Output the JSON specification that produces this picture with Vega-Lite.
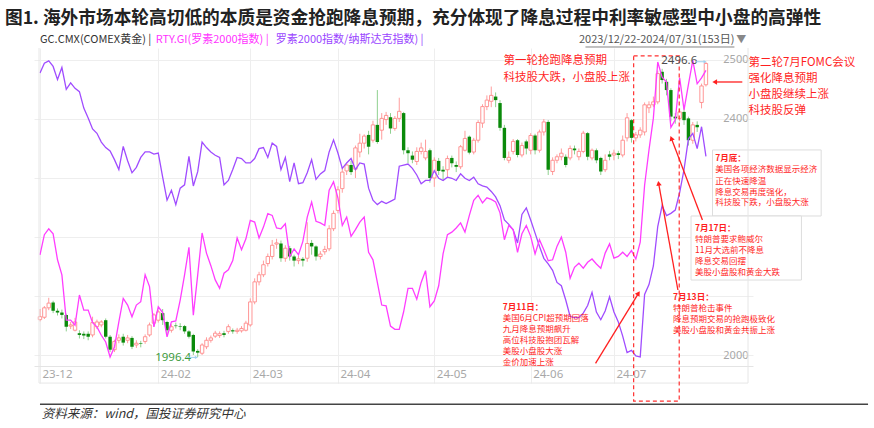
{
"$schema":"https://vega.github.io/schema/vega-lite/v6.json",
"width":719,"height":318,
"autosize":{"type":"none"},
"padding":{"left":34,"top":48,"right":121,"bottom":62},
"background":"#ffffff",
"config":{"view":{"stroke":null},"font":"Noto Sans CJK SC","text":{"font":"Noto Sans CJK SC"}},
"title":{"text":"图1. 海外市场本轮高切低的本质是资金抢跑降息预期，充分体现了降息过程中利率敏感型中小盘的高弹性","anchor":"start","frame":"group","offset":6,"dx":-29,"fontSize":17.7,"fontWeight":"bold","color":"#222222","font":"Noto Sans CJK SC"},
"datasets":{
"d":[
{"d":"2023-12-22","i":0,"o":2060,"h":2078,"l":2057,"c":2065,"rty":2035,"ratio":0.1357},
{"d":"2023-12-26","i":1,"o":2064,"h":2083,"l":2061,"c":2080,"rty":2059,"ratio":0.1366},
{"d":"2023-12-27","i":2,"o":2080,"h":2097,"l":2076,"c":2088,"rty":2066,"ratio":0.1368},
{"d":"2023-12-28","i":3,"o":2089,"h":2092,"l":2071,"c":2075,"rty":2060,"ratio":0.1363},
{"d":"2023-12-29","i":4,"o":2075,"h":2079,"l":2067,"c":2072,"rty":2029,"ratio":0.1351},
{"d":"2024-01-02","i":5,"o":2072,"h":2077,"l":2062,"c":2068,"rty":2011,"ratio":0.1362},
{"d":"2024-01-03","i":6,"o":2068,"h":2070,"l":2040,"c":2048,"rty":1957,"ratio":0.1342},
{"d":"2024-01-04","i":7,"o":2049,"h":2056,"l":2044,"c":2051,"rty":1957,"ratio":0.1348},
{"d":"2024-01-05","i":8,"o":2042,"h":2063,"l":2040,"c":2056,"rty":1951,"ratio":0.1343},
{"d":"2024-01-08","i":9,"o":2037,"h":2042,"l":2028,"c":2034,"rty":1987,"ratio":0.1340},
{"d":"2024-01-09","i":10,"o":2036,"h":2040,"l":2027,"c":2033,"rty":1969,"ratio":0.1325},
{"d":"2024-01-10","i":11,"o":2036,"h":2040,"l":2025,"c":2031,"rty":1969,"ratio":0.1316},
{"d":"2024-01-11","i":12,"o":2034,"h":2065,"l":2030,"c":2055,"rty":1954,"ratio":0.1306},
{"d":"2024-01-12","i":13,"o":2048,"h":2060,"l":2044,"c":2056,"rty":1949,"ratio":0.1302},
{"d":"2024-01-15","i":14,"o":2051,"h":2059,"l":2047,"c":2056,"rty":1939,"ratio":0.1294},
{"d":"2024-01-16","i":15,"o":2059,"h":2062,"l":2028,"c":2031,"rty":1931,"ratio":0.1289},
{"d":"2024-01-17","i":16,"o":2031,"h":2034,"l":2005,"c":2009,"rty":1913,"ratio":0.1286},
{"d":"2024-01-18","i":17,"o":2009,"h":2026,"l":2005,"c":2023,"rty":1925,"ratio":0.1278},
{"d":"2024-01-19","i":18,"o":2025,"h":2035,"l":2020,"c":2029,"rty":1955,"ratio":0.1269},
{"d":"2024-01-22","i":19,"o":2031,"h":2036,"l":2016,"c":2021,"rty":1983,"ratio":0.1290},
{"d":"2024-01-23","i":20,"o":2025,"h":2034,"l":2020,"c":2029,"rty":1975,"ratio":0.1277},
{"d":"2024-01-24","i":21,"o":2029,"h":2032,"l":2010,"c":2014,"rty":1961,"ratio":0.1266},
{"d":"2024-01-25","i":22,"o":2017,"h":2025,"l":2012,"c":2020,"rty":1975,"ratio":0.1271},
{"d":"2024-01-26","i":23,"o":2020,"h":2024,"l":2013,"c":2019,"rty":1979,"ratio":0.1280},
{"d":"2024-01-29","i":24,"o":2023,"h":2035,"l":2019,"c":2031,"rty":2011,"ratio":0.1285},
{"d":"2024-01-30","i":25,"o":2034,"h":2055,"l":2031,"c":2051,"rty":1997,"ratio":0.1285},
{"d":"2024-01-31","i":26,"o":2054,"h":2071,"l":2048,"c":2068,"rty":1949,"ratio":0.1283},
{"d":"2024-02-01","i":27,"o":2059,"h":2076,"l":2055,"c":2073,"rty":1973,"ratio":0.1284},
{"d":"2024-02-02","i":28,"o":2071,"h":2078,"l":2051,"c":2059,"rty":1966,"ratio":0.1262},
{"d":"2024-02-05","i":29,"o":2056,"h":2058,"l":2035,"c":2042,"rty":1937,"ratio":0.1241},
{"d":"2024-02-06","i":30,"o":2042,"h":2052,"l":2038,"c":2048,"rty":1955,"ratio":0.1250},
{"d":"2024-02-07","i":31,"o":2050,"h":2055,"l":2045,"c":2049,"rty":1956,"ratio":0.1237},
{"d":"2024-02-08","i":32,"o":2049,"h":2054,"l":2042,"c":2048,"rty":1981,"ratio":0.1252},
{"d":"2024-02-09","i":33,"o":2049,"h":2051,"l":2036,"c":2040,"rty":2011,"ratio":0.1255},
{"d":"2024-02-12","i":34,"o":2040,"h":2042,"l":2028,"c":2031,"rty":2044,"ratio":0.1281},
{"d":"2024-02-13","i":35,"o":2034,"h":2036,"l":2000,"c":2006,"rty":1963,"ratio":0.1254},
{"d":"2024-02-14","i":36,"o":2007,"h":2010,"l":1996.4,"c":2004,"rty":2011,"ratio":0.1267},
{"d":"2024-02-15","i":37,"o":2003,"h":2020,"l":2000,"c":2017,"rty":2061,"ratio":0.1294},
{"d":"2024-02-16","i":38,"o":2014,"h":2030,"l":2010,"c":2025,"rty":2037,"ratio":0.1289},
{"d":"2024-02-19","i":39,"o":2025,"h":2033,"l":2021,"c":2029,"rty":2022,"ratio":0.1285},
{"d":"2024-02-20","i":40,"o":2032,"h":2041,"l":2029,"c":2037,"rty":2005,"ratio":0.1282},
{"d":"2024-02-21","i":41,"o":2033,"h":2040,"l":2029,"c":2036,"rty":1995,"ratio":0.1280},
{"d":"2024-02-22","i":42,"o":2037,"h":2041,"l":2030,"c":2034,"rty":2013,"ratio":0.1255},
{"d":"2024-02-23","i":43,"o":2040,"h":2052,"l":2036,"c":2048,"rty":2017,"ratio":0.1259},
{"d":"2024-02-26","i":44,"o":2042,"h":2045,"l":2036,"c":2040,"rty":2028,"ratio":0.1269},
{"d":"2024-02-27","i":45,"o":2040,"h":2046,"l":2036,"c":2042,"rty":2055,"ratio":0.1280},
{"d":"2024-02-28","i":46,"o":2041,"h":2049,"l":2038,"c":2045,"rty":2041,"ratio":0.1279},
{"d":"2024-02-29","i":47,"o":2042,"h":2058,"l":2040,"c":2054,"rty":2054,"ratio":0.1275},
{"d":"2024-03-01","i":48,"o":2051,"h":2096,"l":2048,"c":2090,"rty":2076,"ratio":0.1275},
{"d":"2024-03-04","i":49,"o":2090,"h":2130,"l":2086,"c":2124,"rty":2074,"ratio":0.1279},
{"d":"2024-03-05","i":50,"o":2124,"h":2141,"l":2118,"c":2136,"rty":2055,"ratio":0.1288},
{"d":"2024-03-06","i":51,"o":2136,"h":2160,"l":2132,"c":2153,"rty":2068,"ratio":0.1289},
{"d":"2024-03-07","i":52,"o":2155,"h":2172,"l":2150,"c":2167,"rty":2084,"ratio":0.1280},
{"d":"2024-03-08","i":53,"o":2167,"h":2195,"l":2162,"c":2186,"rty":2082,"ratio":0.1293},
{"d":"2024-03-11","i":54,"o":2188,"h":2197,"l":2180,"c":2190,"rty":2067,"ratio":0.1290},
{"d":"2024-03-12","i":55,"o":2189,"h":2194,"l":2158,"c":2164,"rty":2066,"ratio":0.1269},
{"d":"2024-03-13","i":56,"o":2164,"h":2186,"l":2158,"c":2181,"rty":2072,"ratio":0.1280},
{"d":"2024-03-14","i":57,"o":2181,"h":2185,"l":2160,"c":2167,"rty":2033,"ratio":0.1258},
{"d":"2024-03-15","i":58,"o":2167,"h":2170,"l":2150,"c":2160,"rty":2042,"ratio":0.1275},
{"d":"2024-03-18","i":59,"o":2160,"h":2168,"l":2154,"c":2163,"rty":2035,"ratio":0.1256},
{"d":"2024-03-19","i":60,"o":2163,"h":2166,"l":2150,"c":2160,"rty":2051,"ratio":0.1257},
{"d":"2024-03-20","i":61,"o":2164,"h":2225,"l":2158,"c":2189,"rty":2080,"ratio":0.1266},
{"d":"2024-03-21","i":62,"o":2190,"h":2195,"l":2170,"c":2184,"rty":2098,"ratio":0.1278},
{"d":"2024-03-22","i":63,"o":2184,"h":2186,"l":2160,"c":2167,"rty":2075,"ratio":0.1260},
{"d":"2024-03-25","i":64,"o":2167,"h":2176,"l":2162,"c":2171,"rty":2073,"ratio":0.1265},
{"d":"2024-03-26","i":65,"o":2175,"h":2185,"l":2170,"c":2179,"rty":2070,"ratio":0.1268},
{"d":"2024-03-27","i":66,"o":2180,"h":2220,"l":2176,"c":2214,"rty":2112,"ratio":0.1285},
{"d":"2024-03-28","i":67,"o":2214,"h":2245,"l":2210,"c":2240,"rty":2122,"ratio":0.1296},
{"d":"2024-04-01","i":68,"o":2245,"h":2286,"l":2240,"c":2280,"rty":2103,"ratio":0.1284},
{"d":"2024-04-02","i":69,"o":2282,"h":2318,"l":2275,"c":2310,"rty":2070,"ratio":0.1270},
{"d":"2024-04-03","i":70,"o":2312,"h":2326,"l":2305,"c":2322,"rty":2080,"ratio":0.1275},
{"d":"2024-04-04","i":71,"o":2322,"h":2329,"l":2305,"c":2310,"rty":2057,"ratio":0.1279},
{"d":"2024-04-05","i":72,"o":2315,"h":2355,"l":2300,"c":2351,"rty":2065,"ratio":0.1269},
{"d":"2024-04-08","i":73,"o":2344,"h":2375,"l":2335,"c":2359,"rty":2074,"ratio":0.1275},
{"d":"2024-04-09","i":74,"o":2359,"h":2374,"l":2350,"c":2371,"rty":2080,"ratio":0.1274},
{"d":"2024-04-10","i":75,"o":2373,"h":2380,"l":2340,"c":2353,"rty":2038,"ratio":0.1252},
{"d":"2024-04-11","i":76,"o":2364,"h":2397,"l":2360,"c":2390,"rty":2029,"ratio":0.1241},
{"d":"2024-04-12","i":77,"o":2390,"h":2449,"l":2358,"c":2361,"rty":2002,"ratio":0.1237},
{"d":"2024-04-15","i":78,"o":2381,"h":2410,"l":2365,"c":2401,"rty":1975,"ratio":0.1240},
{"d":"2024-04-16","i":79,"o":2399,"h":2412,"l":2390,"c":2406,"rty":1974,"ratio":0.1238},
{"d":"2024-04-17","i":80,"o":2403,"h":2410,"l":2375,"c":2384,"rty":1950,"ratio":0.1240},
{"d":"2024-04-18","i":81,"o":2384,"h":2405,"l":2380,"c":2401,"rty":1946,"ratio":0.1242},
{"d":"2024-04-19","i":82,"o":2401,"h":2436,"l":2395,"c":2413,"rty":1946,"ratio":0.1272},
{"d":"2024-04-22","i":83,"o":2410,"h":2412,"l":2340,"c":2347,"rty":1967,"ratio":0.1273},
{"d":"2024-04-23","i":84,"o":2347,"h":2352,"l":2325,"c":2342,"rty":1995,"ratio":0.1274},
{"d":"2024-04-24","i":85,"o":2338,"h":2345,"l":2325,"c":2331,"rty":1995,"ratio":0.1270},
{"d":"2024-04-25","i":86,"o":2328,"h":2352,"l":2322,"c":2345,"rty":1982,"ratio":0.1264},
{"d":"2024-04-26","i":87,"o":2345,"h":2360,"l":2340,"c":2351,"rty":2002,"ratio":0.1256},
{"d":"2024-04-29","i":88,"o":2334,"h":2365,"l":2330,"c":2345,"rty":2016,"ratio":0.1259},
{"d":"2024-04-30","i":89,"o":2347,"h":2350,"l":2292,"c":2300,"rty":1973,"ratio":0.1259},
{"d":"2024-05-01","i":90,"o":2300,"h":2335,"l":2285,"c":2330,"rty":1980,"ratio":0.1268},
{"d":"2024-05-02","i":91,"o":2329,"h":2334,"l":2305,"c":2312,"rty":1998,"ratio":0.1261},
{"d":"2024-05-03","i":92,"o":2314,"h":2320,"l":2295,"c":2311,"rty":2036,"ratio":0.1259},
{"d":"2024-05-06","i":93,"o":2314,"h":2338,"l":2300,"c":2333,"rty":2059,"ratio":0.1262},
{"d":"2024-05-07","i":94,"o":2334,"h":2338,"l":2318,"c":2325,"rty":2062,"ratio":0.1261},
{"d":"2024-05-08","i":95,"o":2322,"h":2328,"l":2310,"c":2319,"rty":2067,"ratio":0.1259},
{"d":"2024-05-09","i":96,"o":2319,"h":2356,"l":2315,"c":2353,"rty":2073,"ratio":0.1265},
{"d":"2024-05-10","i":97,"o":2347,"h":2380,"l":2345,"c":2367,"rty":2062,"ratio":0.1261},
{"d":"2024-05-13","i":98,"o":2370,"h":2372,"l":2340,"c":2343,"rty":2082,"ratio":0.1259},
{"d":"2024-05-14","i":99,"o":2344,"h":2368,"l":2340,"c":2364,"rty":2100,"ratio":0.1262},
{"d":"2024-05-15","i":100,"o":2364,"h":2398,"l":2360,"c":2394,"rty":2106,"ratio":0.1256},
{"d":"2024-05-16","i":101,"o":2393,"h":2425,"l":2385,"c":2421,"rty":2097,"ratio":0.1254},
{"d":"2024-05-17","i":102,"o":2421,"h":2440,"l":2415,"c":2432,"rty":2103,"ratio":0.1253},
{"d":"2024-05-20","i":103,"o":2430,"h":2455,"l":2420,"c":2440,"rty":2101,"ratio":0.1249},
{"d":"2024-05-21","i":104,"o":2438,"h":2445,"l":2420,"c":2432,"rty":2098,"ratio":0.1244},
{"d":"2024-05-22","i":105,"o":2427,"h":2432,"l":2380,"c":2385,"rty":2085,"ratio":0.1236},
{"d":"2024-05-23","i":106,"o":2385,"h":2390,"l":2330,"c":2334,"rty":2053,"ratio":0.1223},
{"d":"2024-05-24","i":107,"o":2330,"h":2345,"l":2325,"c":2335,"rty":2070,"ratio":0.1219},
{"d":"2024-05-28","i":108,"o":2345,"h":2366,"l":2340,"c":2362,"rty":2065,"ratio":0.1214},
{"d":"2024-05-29","i":109,"o":2364,"h":2366,"l":2335,"c":2339,"rty":2038,"ratio":0.1202},
{"d":"2024-05-30","i":110,"o":2339,"h":2360,"l":2335,"c":2355,"rty":2060,"ratio":0.1228},
{"d":"2024-05-31","i":111,"o":2362,"h":2365,"l":2340,"c":2350,"rty":2070,"ratio":0.1234},
{"d":"2024-06-03","i":112,"o":2347,"h":2376,"l":2340,"c":2372,"rty":2057,"ratio":0.1223},
{"d":"2024-06-04","i":113,"o":2372,"h":2375,"l":2340,"c":2347,"rty":2036,"ratio":0.1211},
{"d":"2024-06-05","i":114,"o":2347,"h":2382,"l":2343,"c":2378,"rty":2053,"ratio":0.1199},
{"d":"2024-06-06","i":115,"o":2378,"h":2400,"l":2372,"c":2395,"rty":2041,"ratio":0.1188},
{"d":"2024-06-07","i":116,"o":2395,"h":2398,"l":2305,"c":2314,"rty":2028,"ratio":0.1183},
{"d":"2024-06-10","i":117,"o":2311,"h":2335,"l":2305,"c":2330,"rty":2029,"ratio":0.1177},
{"d":"2024-06-11","i":118,"o":2330,"h":2340,"l":2325,"c":2336,"rty":2045,"ratio":0.1166},
{"d":"2024-06-12","i":119,"o":2336,"h":2350,"l":2330,"c":2342,"rty":2056,"ratio":0.1163},
{"d":"2024-06-13","i":120,"o":2336,"h":2340,"l":2318,"c":2322,"rty":2038,"ratio":0.1150},
{"d":"2024-06-14","i":121,"o":2334,"h":2355,"l":2330,"c":2350,"rty":2007,"ratio":0.1135},
{"d":"2024-06-17","i":122,"o":2350,"h":2355,"l":2340,"c":2347,"rty":2020,"ratio":0.1134},
{"d":"2024-06-18","i":123,"o":2336,"h":2350,"l":2330,"c":2345,"rty":2025,"ratio":0.1134},
{"d":"2024-06-20","i":124,"o":2345,"h":2380,"l":2342,"c":2376,"rty":2019,"ratio":0.1138},
{"d":"2024-06-21","i":125,"o":2376,"h":2378,"l":2330,"c":2336,"rty":2026,"ratio":0.1145},
{"d":"2024-06-24","i":126,"o":2334,"h":2350,"l":2330,"c":2347,"rty":2030,"ratio":0.1157},
{"d":"2024-06-25","i":127,"o":2347,"h":2350,"l":2325,"c":2330,"rty":2024,"ratio":0.1139},
{"d":"2024-06-26","i":128,"o":2334,"h":2336,"l":2305,"c":2311,"rty":2019,"ratio":0.1132},
{"d":"2024-06-27","i":129,"o":2314,"h":2340,"l":2310,"c":2330,"rty":2037,"ratio":0.1140},
{"d":"2024-06-28","i":130,"o":2340,"h":2346,"l":2330,"c":2336,"rty":2048,"ratio":0.1153},
{"d":"2024-07-01","i":131,"o":2339,"h":2348,"l":2330,"c":2342,"rty":2031,"ratio":0.1139},
{"d":"2024-07-02","i":132,"o":2342,"h":2346,"l":2332,"c":2339,"rty":2033,"ratio":0.1130},
{"d":"2024-07-03","i":133,"o":2339,"h":2372,"l":2335,"c":2364,"rty":2038,"ratio":0.1117},
{"d":"2024-07-05","i":134,"o":2368,"h":2410,"l":2362,"c":2402,"rty":2033,"ratio":0.1102},
{"d":"2024-07-08","i":135,"o":2398,"h":2400,"l":2360,"c":2368,"rty":2040,"ratio":0.1104},
{"d":"2024-07-09","i":136,"o":2368,"h":2378,"l":2362,"c":2373,"rty":2030,"ratio":0.1099},
{"d":"2024-07-10","i":137,"o":2373,"h":2386,"l":2368,"c":2381,"rty":2050,"ratio":0.1098},
{"d":"2024-07-11","i":138,"o":2378,"h":2428,"l":2372,"c":2424,"rty":2118,"ratio":0.1155},
{"d":"2024-07-12","i":139,"o":2419,"h":2430,"l":2410,"c":2424,"rty":2160,"ratio":0.1164},
{"d":"2024-07-15","i":140,"o":2424,"h":2438,"l":2420,"c":2429,"rty":2198,"ratio":0.1181},
{"d":"2024-07-16","i":141,"o":2429,"h":2482,"l":2425,"c":2477,"rty":2265,"ratio":0.1217},
{"d":"2024-07-17","i":142,"o":2480,"h":2485,"l":2460,"c":2466,"rty":2247,"ratio":0.1236},
{"d":"2024-07-18","i":143,"o":2463,"h":2468,"l":2440,"c":2449,"rty":2241,"ratio":0.1227},
{"d":"2024-07-19","i":144,"o":2449,"h":2452,"l":2396,"c":2404,"rty":2187,"ratio":0.1229},
{"d":"2024-07-22","i":145,"o":2404,"h":2410,"l":2392,"c":2401,"rty":2196,"ratio":0.1232},
{"d":"2024-07-23","i":146,"o":2401,"h":2418,"l":2396,"c":2412,"rty":2246,"ratio":0.1248},
{"d":"2024-07-24","i":147,"o":2412,"h":2420,"l":2390,"c":2398,"rty":2208,"ratio":0.1269},
{"d":"2024-07-25","i":148,"o":2401,"h":2404,"l":2355,"c":2364,"rty":2238,"ratio":0.1297},
{"d":"2024-07-26","i":149,"o":2364,"h":2395,"l":2358,"c":2390,"rty":2267,"ratio":0.1302},
{"d":"2024-07-29","i":150,"o":2390,"h":2396,"l":2378,"c":2386,"rty":2239,"ratio":0.1288},
{"d":"2024-07-30","i":151,"o":2428,"h":2460,"l":2418,"c":2456,"rty":2246,"ratio":0.1308},
{"d":"2024-07-31","i":152,"o":2458,"h":2496.6,"l":2455,"c":2494,"rty":2255,"ratio":0.1281}
],
"hdr":[{"t":"GC.CMX(COMEX黄金) |","s":"gold","i":0,"v":2533.9},{"t":"RTY.GI(罗素2000指数) |","s":"rty","i":26.4,"v":2533.9},{"t":"罗素2000指数/纳斯达克指数) |","s":"ratio","i":53.8,"v":2533.9}],
"dr":[{"t":"2023/12/22-2024/07/31(153日)","i":158.5,"v":2533.9}],
"tri":[{"t":"▼","i":158.9,"v":2533.9}],
"ul":[{"i":124.5,"i2":158.5,"v":2522,"v2":2522}],
"fr":[{"i":-0.225,"i2":-0.225,"v":2520.3,"v2":1952.5},{"i":161.6,"i2":161.6,"v":2520.3,"v2":1952.5},{"i":-0.225,"i2":161.6,"v":1952.5,"v2":1952.5}],
"box":[{"i":153.5,"i2":178.3,"v":2347.5,"v2":2235.6},{"i":148.6,"i2":173.8,"v":2235.6,"v2":2127.1}],
"zone":[{"i":135.5,"i2":145.9,"v":2506.8,"v2":1922}],
"arr":[{"i":126.8,"i2":136.6,"v":1985.9,"v2":2104.6},{"i":145.6,"i2":141.2,"v":2110.2,"v2":2291.0},{"i":151.2,"i2":144.1,"v":2228.8,"v2":2367.3},{"i":160.3,"i2":154.0,"v":2462.7,"v2":2462.7}],
"h1":[{"i":136.6,"v":2104.6}],
"h2":[{"i":141.2,"v":2291.0}],
"h3":[{"i":144.1,"v":2367.3}],
"h4":[{"i":154.0,"v":2462.7}],
"r1":[{"t":"第一轮抢跑降息预期","i":105.8,"v":2498.3},{"t":"科技股大跌，小盘股上涨","i":105.8,"v":2469.5},{"t":"第二轮7月FOMC会议","i":161.7,"v":2494.9},{"t":"强化降息预期","i":161.7,"v":2467.8},{"t":"小盘股继续上涨","i":161.7,"v":2440.7},{"t":"科技股反弹","i":161.7,"v":2413.6}],
"r3":[{"t":"7月底：","i":154.1,"v":2333.4},{"t":"7月17日：","i":149.5,"v":2214.7},{"t":"7月13日：","i":144.5,"v":2098.8},{"t":"7月11日：","i":105.6,"v":2081.0}],
"r2":[
{"t":"美国各项经济数据显示经济","i":154.1,"v":2314.7},
{"t":"正在快速降温","i":154.1,"v":2295.4},
{"t":"降息交易再度强化，","i":154.1,"v":2276.8},
{"t":"科技股下跌，小盘股大涨","i":154.1,"v":2258.8},
{"t":"特朗普要求鲍威尔","i":149.5,"v":2196.6},
{"t":"11月大选前不降息","i":149.5,"v":2177.9},
{"t":"降息交易回摆","i":149.5,"v":2159.8},
{"t":"美股小盘股和黄金大跌","i":149.5,"v":2141.2},
{"t":"特朗普枪击事件","i":144.5,"v":2080.2},
{"t":"降息预期交易的抢跑极致化","i":144.5,"v":2061.0},
{"t":"美股小盘股和黄金共振上涨","i":144.5,"v":2042.4},
{"t":"美国6月CPI超预期回落","i":105.6,"v":2062.5},
{"t":"九月降息预期飙升","i":105.6,"v":2044.0},
{"t":"高位科技股抱团瓦解","i":105.6,"v":2025.5},
{"t":"美股小盘股大涨","i":105.6,"v":2007.0},
{"t":"金价加速上涨","i":105.6,"v":1988.5}],
"mx":[{"t":"2496.6","i":141.8,"v":2498.3}],
"mn":[{"t":"1996.4","i":26.3,"v":1995.4}],
"mmr":[{"i":149.6,"i2":151.8,"v":2497,"v2":2497},{"i":33.5,"i2":35.7,"v":1996,"v2":1996}],
"mmh":[{"i":151.8,"v":2497},{"i":35.7,"v":1996}],
"src":[{"i":0,"i2":189,"v":1916.5,"v2":1916.5}],
"srct":[{"t":"资料来源：wind，国投证券研究中心","i":0.4,"v":1900}]
},
"encoding":{"x":{"field":"i","type":"quantitative","scale":{"domain":[-0.225,161.6],"nice":false,"zero":false},
 "axis":{"values":[0,27,48,68,90,112,131],"labelExpr":"datum.value==0?'23-12':datum.value==27?'24-02':datum.value==48?'24-03':datum.value==68?'24-04':datum.value==90?'24-05':datum.value==112?'24-06':'24-07'","grid":true,"gridColor":"#eeeeee","ticks":true,"tickSize":17,"tickColor":"#eeeeee","labelPadding":-15,"labelAlign":"left","labelOffset":2,"labelColor":"#a8a8a8","labelFontSize":11.5,"labelFont":"Noto Sans","domainColor":"#e4e4e4","title":null,"labelOverlap":false,"labelFlush":false}}},
"layer":[
{"data":{"name":"d"},"layer":[
 {"transform":[{"filter":"datum.c>=datum.o"}],"mark":{"type":"rule","color":"#ff9d9d","strokeWidth":1},
  "encoding":{"y":{"field":"h","type":"quantitative","scale":{"domain":[1981.4,2520.3],"nice":false,"zero":false},"axis":{"orient":"right","values":[2000,2100,2200,2300,2400,2500],"format":"d","labelExpr":"(datum.value==2000||datum.value>=2400)?datum.label:''","grid":true,"gridColor":"#eeeeee","domain":false,"ticks":false,"labelAlign":"right","labelPadding":-5,"labelColor":"#a8a8a8","labelFontSize":11,"labelFont":"Noto Sans","title":null,"labelOverlap":false}},"y2":{"field":"l"}}},
 {"transform":[{"filter":"datum.c<datum.o"}],"mark":{"type":"rule","color":"#8fd08f","strokeWidth":1},
  "encoding":{"y":{"field":"h","type":"quantitative","scale":{"domain":[1981.4,2520.3],"nice":false,"zero":false},"axis":{"orient":"right","values":[2000,2100,2200,2300,2400,2500],"format":"d","labelExpr":"(datum.value==2000||datum.value>=2400)?datum.label:''","grid":true,"gridColor":"#eeeeee","domain":false,"ticks":false,"labelAlign":"right","labelPadding":-5,"labelColor":"#a8a8a8","labelFontSize":11,"labelFont":"Noto Sans","title":null,"labelOverlap":false}},"y2":{"field":"l"}}},
 {"transform":[{"filter":"datum.c>=datum.o"}],"mark":{"type":"bar","width":3.4,"fill":"#ffffff","stroke":"#ff8a8a","strokeWidth":0.9},
  "encoding":{"y":{"field":"o","type":"quantitative","scale":{"domain":[1981.4,2520.3],"nice":false,"zero":false},"axis":{"orient":"right","values":[2000,2100,2200,2300,2400,2500],"format":"d","labelExpr":"(datum.value==2000||datum.value>=2400)?datum.label:''","grid":true,"gridColor":"#eeeeee","domain":false,"ticks":false,"labelAlign":"right","labelPadding":-5,"labelColor":"#a8a8a8","labelFontSize":11,"labelFont":"Noto Sans","title":null,"labelOverlap":false}},"y2":{"field":"c"}}},
 {"transform":[{"filter":"datum.c<datum.o"}],"mark":{"type":"bar","width":3.4,"color":"#0a8a0a"},
  "encoding":{"y":{"field":"o","type":"quantitative","scale":{"domain":[1981.4,2520.3],"nice":false,"zero":false},"axis":{"orient":"right","values":[2000,2100,2200,2300,2400,2500],"format":"d","labelExpr":"(datum.value==2000||datum.value>=2400)?datum.label:''","grid":true,"gridColor":"#eeeeee","domain":false,"ticks":false,"labelAlign":"right","labelPadding":-5,"labelColor":"#a8a8a8","labelFontSize":11,"labelFont":"Noto Sans","title":null,"labelOverlap":false}},"y2":{"field":"c"}}}
]},
{"data":{"name":"d"},"mark":{"type":"line","color":"#a04cff","strokeWidth":1.3},
 "encoding":{"y":{"field":"ratio","type":"quantitative","scale":{"domain":[0.10898,0.13798],"nice":false,"zero":false},"axis":null}}},
{"data":{"name":"d"},"mark":{"type":"line","color":"#ff3dff","strokeWidth":1.3},
 "encoding":{"y":{"field":"rty","type":"quantitative","scale":{"domain":[1902.3,2281.7],"nice":false,"zero":false},"axis":null}}},
{"layer":[
 {"data":{"name":"box"},"mark":{"type":"rect","fill":"#ffffff","stroke":"#dddddd","strokeWidth":1},
  "encoding":{"x2":{"field":"i2"},"y":{"field":"v","type":"quantitative","scale":{"domain":[1981.4,2520.3],"nice":false,"zero":false},"axis":null},"y2":{"field":"v2"}}},
 {"data":{"name":"fr"},"mark":{"type":"rule","color":"#e6e6e6","strokeWidth":1},
  "encoding":{"x2":{"field":"i2"},"y":{"field":"v","type":"quantitative","scale":{"domain":[1981.4,2520.3],"nice":false,"zero":false},"axis":null},"y2":{"field":"v2"}}},
 {"data":{"name":"zone"},"mark":{"type":"rect","fillOpacity":0,"stroke":"#ff3030","strokeDash":[4,3],"strokeWidth":1.2},
  "encoding":{"x2":{"field":"i2"},"y":{"field":"v","type":"quantitative","scale":{"domain":[1981.4,2520.3],"nice":false,"zero":false},"axis":null},"y2":{"field":"v2"}}},
 {"data":{"name":"arr"},"mark":{"type":"rule","color":"#ff2020","strokeWidth":1.3},
  "encoding":{"x2":{"field":"i2"},"y":{"field":"v","type":"quantitative","scale":{"domain":[1981.4,2520.3],"nice":false,"zero":false},"axis":null},"y2":{"field":"v2"}}},
 {"data":{"name":"h1"},"mark":{"type":"point","shape":"triangle-up","angle":32,"filled":true,"color":"#ff2020","size":30,"opacity":1},
  "encoding":{"y":{"field":"v","type":"quantitative","scale":{"domain":[1981.4,2520.3],"nice":false,"zero":false},"axis":null}}},
 {"data":{"name":"h2"},"mark":{"type":"point","shape":"triangle-up","angle":350,"filled":true,"color":"#ff2020","size":30,"opacity":1},
  "encoding":{"y":{"field":"v","type":"quantitative","scale":{"domain":[1981.4,2520.3],"nice":false,"zero":false},"axis":null}}},
 {"data":{"name":"h3"},"mark":{"type":"point","shape":"triangle-up","angle":339,"filled":true,"color":"#ff2020","size":30,"opacity":1},
  "encoding":{"y":{"field":"v","type":"quantitative","scale":{"domain":[1981.4,2520.3],"nice":false,"zero":false},"axis":null}}},
 {"data":{"name":"h4"},"mark":{"type":"point","shape":"triangle-left","filled":true,"color":"#ff2020","size":30,"opacity":1},
  "encoding":{"y":{"field":"v","type":"quantitative","scale":{"domain":[1981.4,2520.3],"nice":false,"zero":false},"axis":null}}},
 {"data":{"name":"r1"},"mark":{"type":"text","align":"left","baseline":"middle","fontSize":11.5,"color":"#ff1f1f"},
  "encoding":{"text":{"field":"t"},"y":{"field":"v","type":"quantitative","scale":{"domain":[1981.4,2520.3],"nice":false,"zero":false},"axis":null}}},
 {"data":{"name":"r3"},"mark":{"type":"text","align":"left","baseline":"middle","fontSize":8.5,"fontWeight":"bold","color":"#ff1f1f"},
  "encoding":{"text":{"field":"t"},"y":{"field":"v","type":"quantitative","scale":{"domain":[1981.4,2520.3],"nice":false,"zero":false},"axis":null}}},
 {"data":{"name":"r2"},"mark":{"type":"text","align":"left","baseline":"middle","fontSize":8.5,"color":"#ff1f1f"},
  "encoding":{"text":{"field":"t"},"y":{"field":"v","type":"quantitative","scale":{"domain":[1981.4,2520.3],"nice":false,"zero":false},"axis":null}}},
 {"data":{"name":"hdr"},"mark":{"type":"text","align":"left","baseline":"middle","fontSize":11},
  "encoding":{"text":{"field":"t"},"color":{"field":"s","type":"nominal","scale":{"domain":["gold","rty","ratio"],"range":["#333333","#ff33ff","#9a44ff"]},"legend":null},"y":{"field":"v","type":"quantitative","scale":{"domain":[1981.4,2520.3],"nice":false,"zero":false},"axis":null}}},
 {"data":{"name":"dr"},"mark":{"type":"text","align":"right","baseline":"middle","fontSize":11,"color":"#555555"},
  "encoding":{"text":{"field":"t"},"y":{"field":"v","type":"quantitative","scale":{"domain":[1981.4,2520.3],"nice":false,"zero":false},"axis":null}}},
 {"data":{"name":"tri"},"mark":{"type":"text","align":"left","baseline":"middle","fontSize":10,"color":"#888888"},
  "encoding":{"text":{"field":"t"},"y":{"field":"v","type":"quantitative","scale":{"domain":[1981.4,2520.3],"nice":false,"zero":false},"axis":null}}},
 {"data":{"name":"ul"},"mark":{"type":"rule","color":"#666666","strokeWidth":0.8},
  "encoding":{"x2":{"field":"i2"},"y":{"field":"v","type":"quantitative","scale":{"domain":[1981.4,2520.3],"nice":false,"zero":false},"axis":null},"y2":{"field":"v2"}}},
 {"data":{"name":"mx"},"mark":{"type":"text","align":"left","baseline":"middle","fontSize":11.5,"color":"#4d4d4d","font":"Noto Sans"},
  "encoding":{"text":{"field":"t"},"y":{"field":"v","type":"quantitative","scale":{"domain":[1981.4,2520.3],"nice":false,"zero":false},"axis":null}}},
 {"data":{"name":"mn"},"mark":{"type":"text","align":"left","baseline":"middle","fontSize":11.5,"color":"#3d9b3d","font":"Noto Sans"},
  "encoding":{"text":{"field":"t"},"y":{"field":"v","type":"quantitative","scale":{"domain":[1981.4,2520.3],"nice":false,"zero":false},"axis":null}}},
 {"data":{"name":"mmr"},"mark":{"type":"rule","color":"#9fd0ef","strokeWidth":1},
  "encoding":{"x2":{"field":"i2"},"y":{"field":"v","type":"quantitative","scale":{"domain":[1981.4,2520.3],"nice":false,"zero":false},"axis":null},"y2":{"field":"v2"}}},
 {"data":{"name":"mmh"},"mark":{"type":"point","shape":"triangle-right","filled":true,"color":"#9fd0ef","size":12,"opacity":1},
  "encoding":{"y":{"field":"v","type":"quantitative","scale":{"domain":[1981.4,2520.3],"nice":false,"zero":false},"axis":null}}},
 {"data":{"name":"src"},"mark":{"type":"rule","color":"#444444","strokeWidth":1.5},
  "encoding":{"x2":{"field":"i2"},"y":{"field":"v","type":"quantitative","scale":{"domain":[1981.4,2520.3],"nice":false,"zero":false},"axis":null},"y2":{"field":"v2"}}},
 {"data":{"name":"srct"},"mark":{"type":"text","align":"left","baseline":"middle","fontSize":12.5,"fontStyle":"italic","color":"#333333"},
  "encoding":{"text":{"field":"t"},"y":{"field":"v","type":"quantitative","scale":{"domain":[1981.4,2520.3],"nice":false,"zero":false},"axis":null}}}
]}
],
"resolve":{"scale":{"y":"independent"},"axis":{"y":"independent"}}
}
